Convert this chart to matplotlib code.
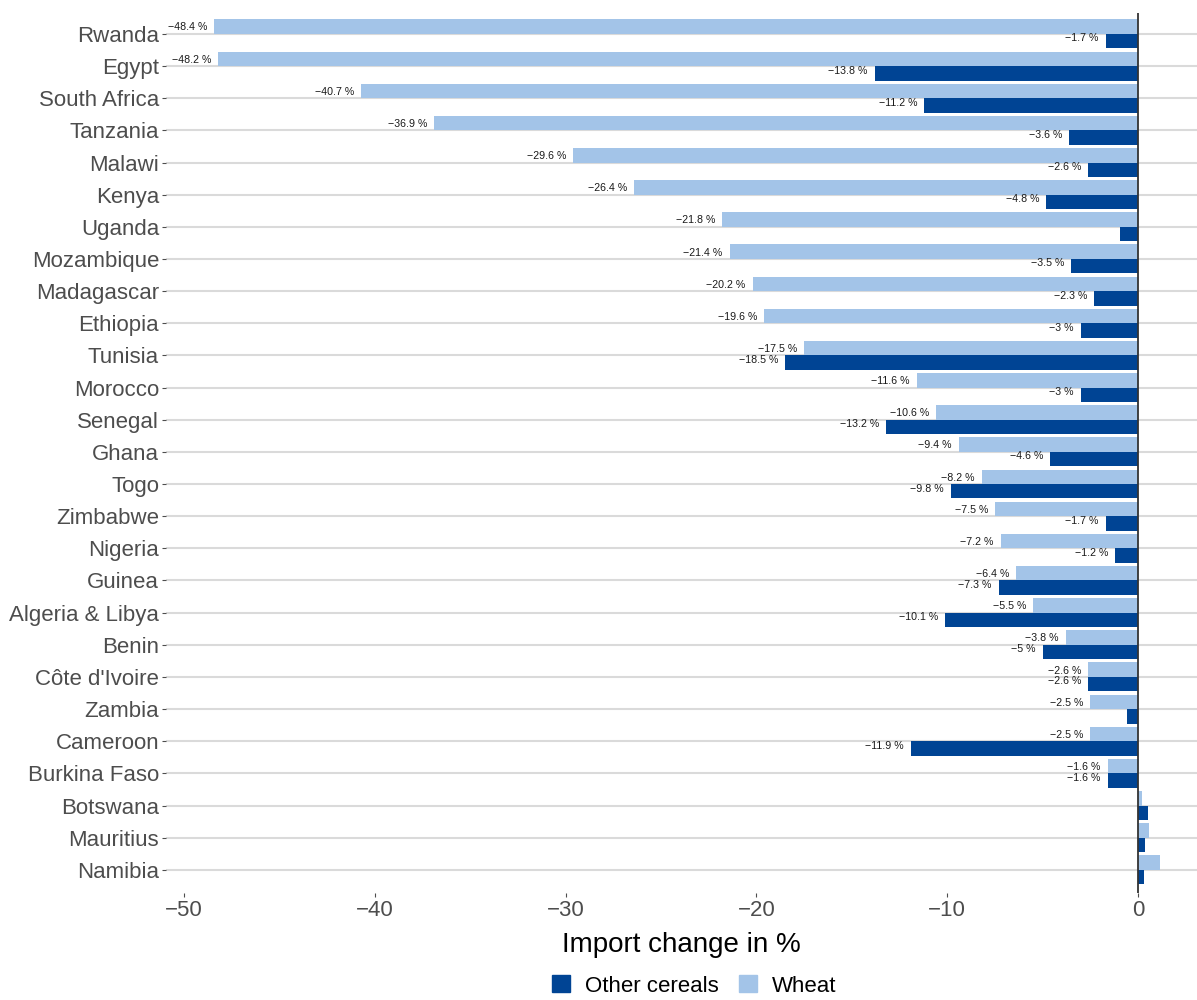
import matplotlib.pyplot as plt
from matplotlib.patches import Patch

plt.rcParams['font.family'] = ['Liberation Sans', 'DejaVu Sans']

countries = ["Rwanda", "Egypt", "South Africa", "Tanzania", "Malawi", "Kenya", "Uganda",
             "Mozambique", "Madagascar", "Ethiopia", "Tunisia", "Morocco", "Senegal", "Ghana",
             "Togo", "Zimbabwe", "Nigeria", "Guinea", "Algeria & Libya", "Benin",
             "Côte d'Ivoire", "Zambia", "Cameroon", "Burkina Faso", "Botswana", "Mauritius",
             "Namibia"]
wheat = [-48.4, -48.2, -40.7, -36.9, -29.6, -26.4, -21.8, -21.4, -20.2, -19.6, -17.5, -11.6,
         -10.6, -9.4, -8.2, -7.5, -7.2, -6.4, -5.5, -3.8, -2.6, -2.5, -2.5, -1.6, 0.23, 0.55, 1.13]
other = [-1.7, -13.8, -11.2, -3.6, -2.6, -4.8, -0.97, -3.5, -2.3, -3.0, -18.5, -3.0,
         -13.2, -4.6, -9.8, -1.7, -1.2, -7.3, -10.1, -5.0, -2.6, -0.58, -11.9, -1.6, 0.54, 0.38, 0.33]

c_wheat = "#a3c4e8"
c_other = "#004494"


def fmt(v):
    return ("%g" % v).replace("-", "\u2212") + " %"


fig = plt.figure(figsize=(11.97, 10), dpi=100)
ax = fig.add_axes([166 / 1197, 0.107, 1 - 166 / 1197, 0.88])

ypos = list(range(len(countries)))
h = 0.45
ax.barh([y - h / 2 for y in ypos], wheat, height=h, color=c_wheat, zorder=2)
ax.barh([y + h / 2 for y in ypos], other, height=h, color=c_other, zorder=2)

# labels only for the clearly negative bars
for y, w, o in zip(ypos, wheat, other):
    if w <= -1:
        ax.annotate(fmt(w), (w, y - 0.2), xytext=(-5, 0), textcoords="offset points",
                    ha="right", va="center", fontsize=7.7, color="#1a1a1a")
    if o <= -1:
        ax.annotate(fmt(o), (o, y + 0.14), xytext=(-5, 0), textcoords="offset points",
                    ha="right", va="center", fontsize=7.7, color="#1a1a1a")

ax.axvline(0, color="#333333", lw=1.3, zorder=3)

ax.set_yticks(ypos)
ax.set_yticklabels(countries)
ax.set_ylim(26.72, -0.65)
ax.set_xlim(-50.94, 3.09)
ax.set_xticks([-50, -40, -30, -20, -10, 0])
ax.set_xticklabels(["\u221250", "\u221240", "\u221230", "\u221220", "\u221210", "0"])

ax.grid(axis="y", color="#dadada", lw=1.5, zorder=0)
ax.grid(axis="x", visible=False)
for s in ax.spines.values():
    s.set_visible(False)
ax.tick_params(axis="both", labelsize=16, labelcolor="#4d4d4d", color="#4d4d4d",
               length=3, width=0.8, pad=2)

ax.set_xlabel("Import change in %", fontsize=20, color="black", labelpad=8)

handles = [Patch(color=c_other, label="Other cereals"), Patch(color=c_wheat, label="Wheat")]
fig.legend(handles=handles, loc="center", bbox_to_anchor=(0.58, 0.014), ncol=2, frameon=False,
           fontsize=16, handlelength=0.8, handleheight=0.8, handletextpad=0.7, columnspacing=0.9,
           borderpad=0.1)

fig.savefig("out.png", dpi=100)
